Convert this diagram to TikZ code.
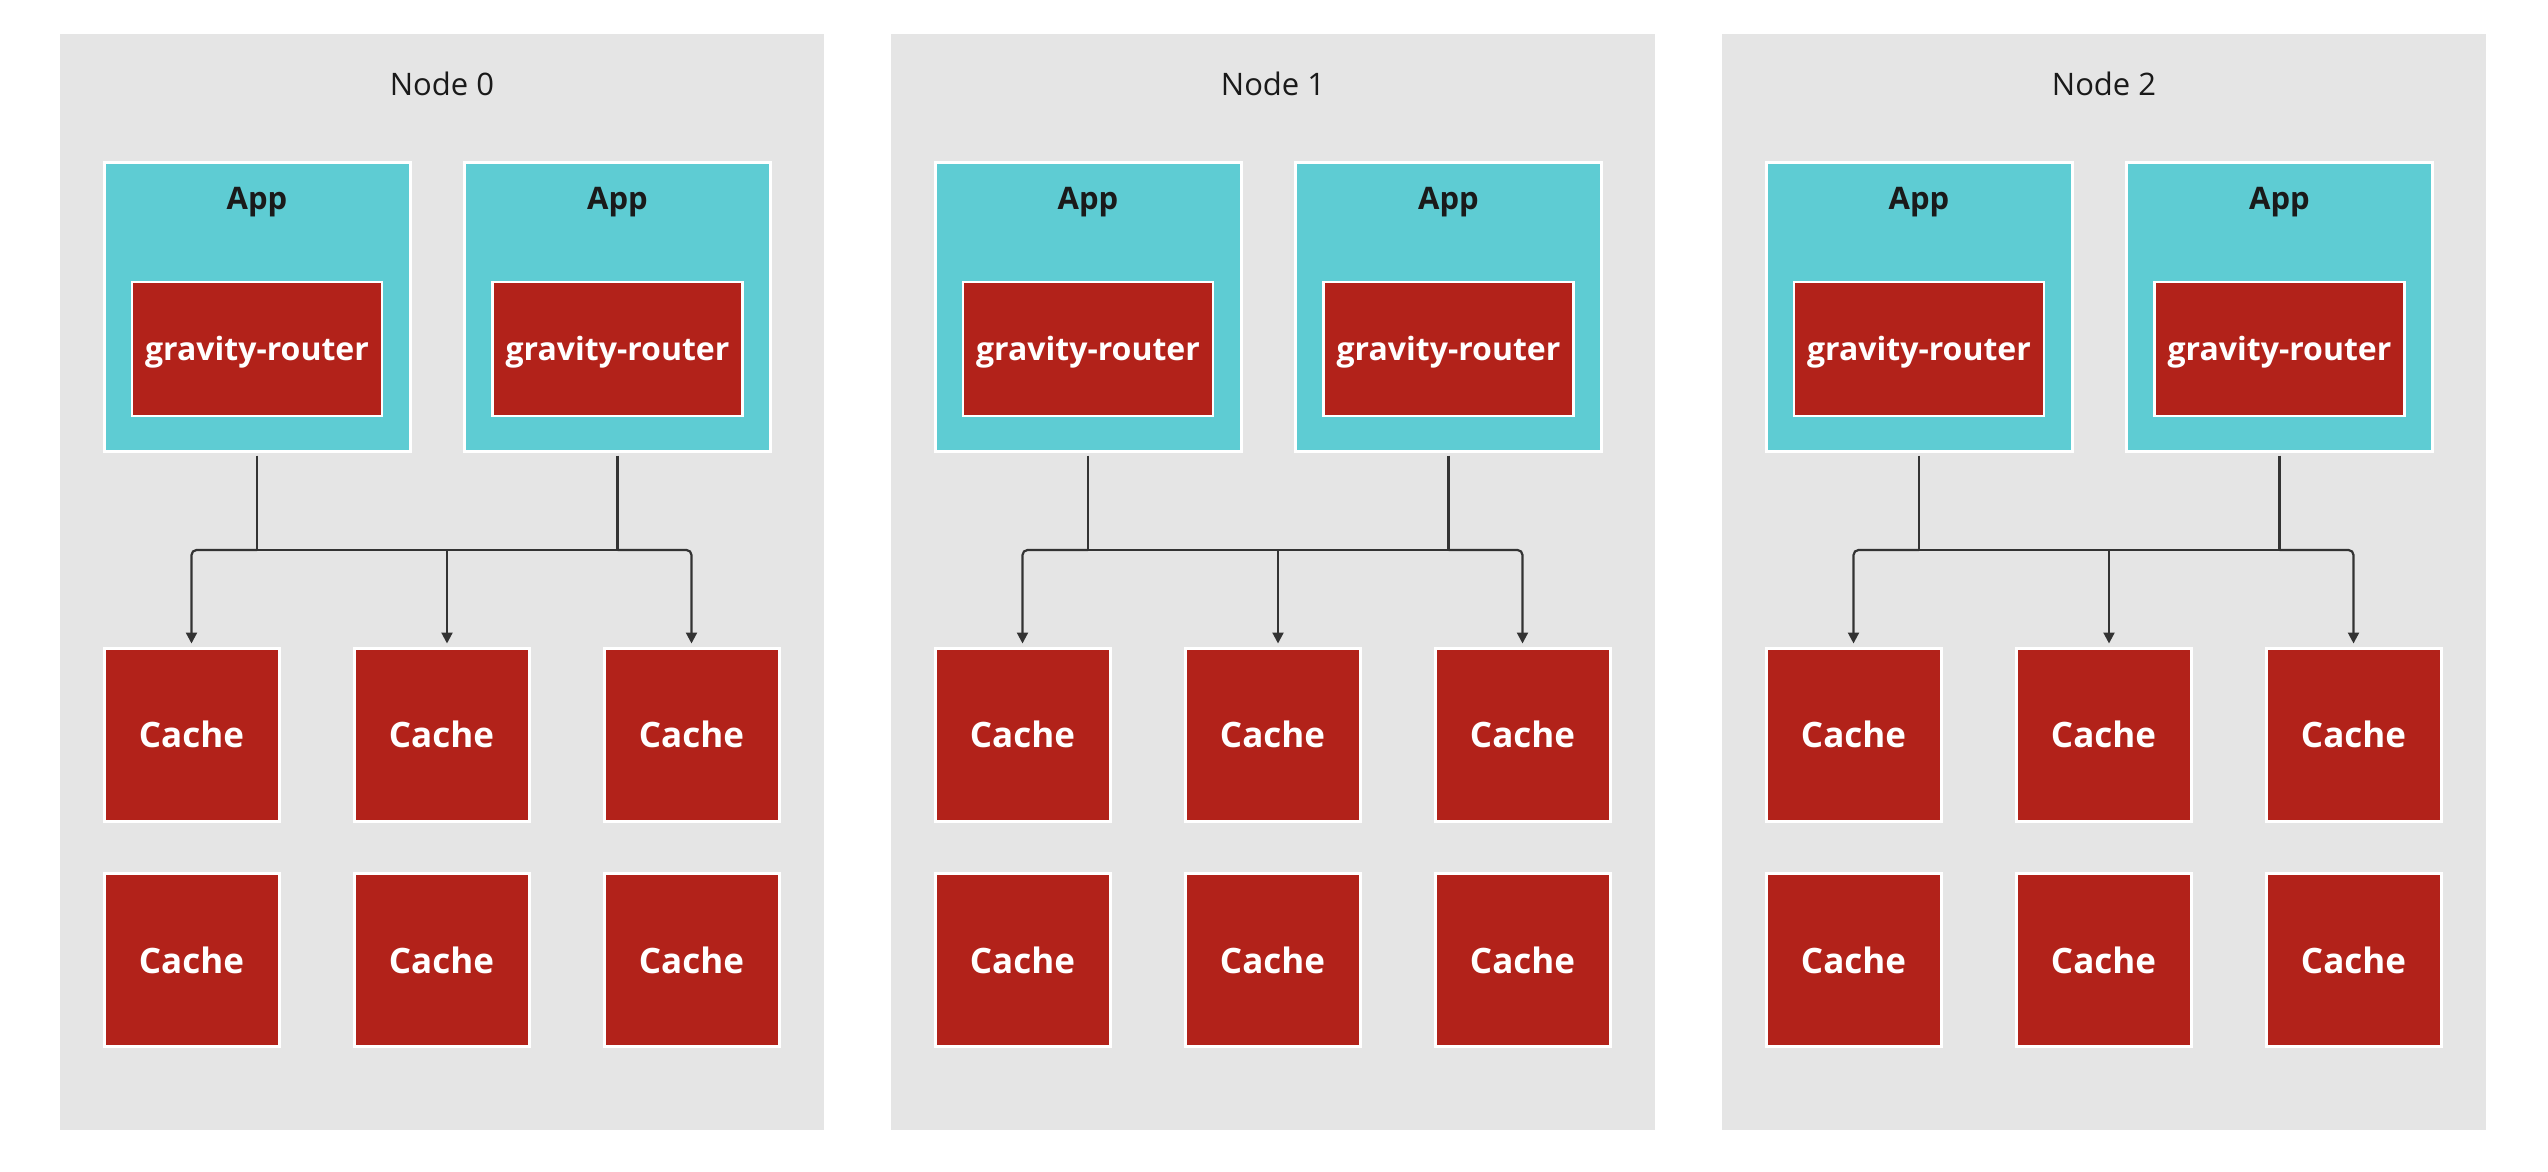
\documentclass[tikz,border=0pt]{standalone}
\usepackage{fontspec}
\setmainfont{Open Sans}
\usetikzlibrary{arrows.meta}
\definecolor{panelgray}{HTML}{E5E5E5}
\definecolor{appteal}{HTML}{5ECCD3}
\definecolor{cachered}{HTML}{B2221A}
\definecolor{linegray}{HTML}{333333}
\definecolor{textdark}{HTML}{1A1A1A}
\begin{document}
\begin{tikzpicture}[x=1pt,y=-1pt,
  panel/.style={rectangle, fill=panelgray, draw=none, minimum width=764pt, minimum height=1096pt, inner sep=0pt, anchor=north west},
  paneltitle/.style={inner sep=0pt, text=textdark, font=\fontsize{31}{37}\selectfont},
  appbox/.style={rectangle, fill=appteal, draw=white, line width=3pt, minimum width=306pt, minimum height=289pt, inner sep=0pt},
  applabel/.style={inner sep=0pt, text=textdark, font=\bfseries\fontsize{31}{37}\selectfont},
  routerbox/.style={rectangle, fill=cachered, draw=white, line width=2.5pt, minimum width=250pt, minimum height=134pt, inner sep=0pt},
  routerlabel/.style={inner sep=0pt, text=white, font=\bfseries\fontsize{32}{38}\selectfont},
  cachebox/.style={rectangle, fill=cachered, draw=white, line width=3pt, minimum width=175pt, minimum height=173pt, inner sep=0pt, text=white, font=\bfseries\fontsize{35}{41}\selectfont},
  conn/.style={draw=linegray, line width=2.2pt},
  arrowconn/.style={conn, -{Triangle[length=11pt,width=11pt]}, shorten >=3pt, rounded corners=5pt}
]
\useasboundingbox (0,0) rectangle (2548,1172);
\fill[white] (0,0) rectangle (2548,1172);
\foreach \i/\X in {0/60,1/891,2/1722}{
  \node[panel] (p\i) at (\X,34) {};
  \node[paneltitle] (p\i-title) at ({\X+382},84) {Node \i};
  \node[appbox] (p\i-appA) at ({\X+197},306.5) {};
  \node[appbox] (p\i-appB) at ({\X+557.5},306.5) {};
  \node[applabel] (p\i-appAl) at ({\X+197},202) {App};
  \node[applabel] (p\i-appBl) at ({\X+557.5},202) {App};
  \node[routerbox] (p\i-rA) at ({\X+197},349) {};
  \node[routerbox] (p\i-rB) at ({\X+557.5},349) {};
  \node[routerlabel] (p\i-rAl) at ({\X+197},352) {gravity-router};
  \node[routerlabel] (p\i-rBl) at ({\X+557.5},352) {gravity-router};
  \node[cachebox] (p\i-c1) at ({\X+131.5},734.5) {\raisebox{-1.5pt}{Cache}};
  \node[cachebox] (p\i-c2) at ({\X+381.5},734.5) {\raisebox{-1.5pt}{Cache}};
  \node[cachebox] (p\i-c3) at ({\X+631.5},734.5) {\raisebox{-1.5pt}{Cache}};
  \node[cachebox] (p\i-c4) at ({\X+131.5},960) {\raisebox{-1.5pt}{Cache}};
  \node[cachebox] (p\i-c5) at ({\X+381.5},960) {\raisebox{-1.5pt}{Cache}};
  \node[cachebox] (p\i-c6) at ({\X+631.5},960) {\raisebox{-1.5pt}{Cache}};
  \coordinate (p\i-bA) at ({\X+197},550);
  \coordinate (p\i-bB) at ({\X+557.5},550);
  \coordinate (p\i-bM) at ({\X+387},550);
  \draw[conn] ([yshift=-3pt]p\i-appA.south) -- (p\i-bA);
  \draw[conn] ([yshift=-3pt]p\i-appB.south) -- (p\i-bB);
  \draw[arrowconn] (p\i-bA) -| (p\i-c1.north);
  \draw[arrowconn] (p\i-bB) -| (p\i-c3.north);
  \draw[conn] (p\i-bA) -- (p\i-bB);
  \draw[arrowconn] (p\i-bM) -- (p\i-bM |- p\i-c2.north);
}
\end{tikzpicture}
\end{document}
